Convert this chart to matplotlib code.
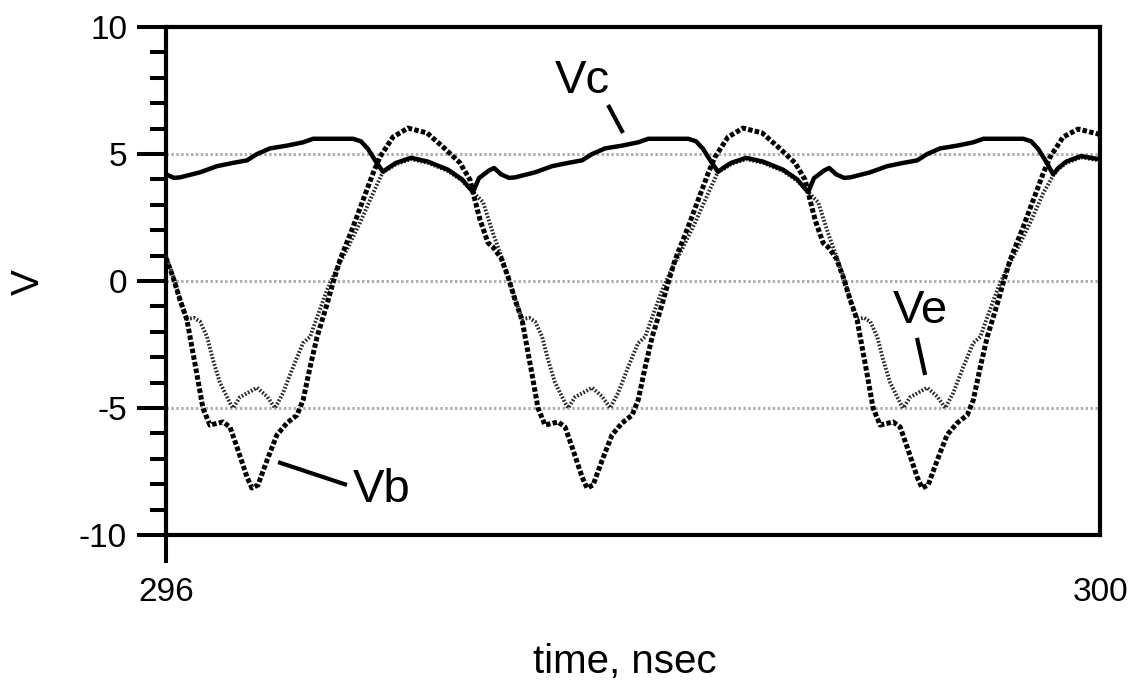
import matplotlib
matplotlib.use("Agg")
import matplotlib.pyplot as plt
from matplotlib.ticker import MultipleLocator

plt.rcParams['font.family'] = ['Liberation Sans', 'DejaVu Sans']
plt.rcParams['axes.unicode_minus'] = False

# collector voltage (solid)
t_vc = [296.000, 296.034, 296.060, 296.146, 296.218, 296.287, 296.347, 296.390, 296.445,
        296.518, 296.587, 296.630, 296.801, 296.835, 296.865, 296.899, 296.929, 296.951,
        296.985, 297.049, 297.122, 297.208, 297.268, 297.315, 297.340, 297.383, 297.405,
        297.435, 297.469, 297.495, 297.581, 297.653, 297.722, 297.782, 297.825, 297.880,
        297.953, 298.022, 298.065, 298.236, 298.270, 298.300, 298.334, 298.364, 298.386,
        298.420, 298.484, 298.557, 298.643, 298.703, 298.750, 298.775, 298.818, 298.840,
        298.870, 298.904, 298.930, 299.016, 299.088, 299.157, 299.217, 299.260, 299.315,
        299.388, 299.457, 299.500, 299.671, 299.705, 299.735, 299.769, 299.799, 299.821,
        299.855, 299.919, 299.992, 300.020]
vc = [4.20, 4.06, 4.08, 4.28, 4.52, 4.65, 4.75, 5.00, 5.22,
      5.33, 5.46, 5.60, 5.60, 5.50, 5.20, 4.70, 4.30, 4.45,
      4.65, 4.85, 4.70, 4.38, 4.00, 3.50, 4.05, 4.35, 4.45,
      4.20, 4.06, 4.08, 4.28, 4.52, 4.65, 4.75, 5.00, 5.22,
      5.33, 5.46, 5.60, 5.60, 5.50, 5.20, 4.70, 4.30, 4.45,
      4.65, 4.85, 4.70, 4.38, 4.00, 3.50, 4.05, 4.35, 4.45,
      4.20, 4.06, 4.08, 4.28, 4.52, 4.65, 4.75, 5.00, 5.22,
      5.33, 5.46, 5.60, 5.60, 5.50, 5.20, 4.70, 4.20, 4.45,
      4.70, 4.92, 4.80, 4.78]

# base voltage (heavy dots)
t_vb = [296.000, 296.030, 296.060, 296.090, 296.103, 296.133, 296.158, 296.188, 296.244,
        296.274, 296.304, 296.347, 296.368, 296.394, 296.433, 296.475, 296.518, 296.561,
        296.587, 296.617, 296.647, 296.690, 296.715, 296.745, 296.801, 296.844, 296.887,
        296.916, 296.972, 297.036, 297.118, 297.186, 297.259, 297.302, 297.323, 297.345,
        297.379, 297.400,
        297.435, 297.465, 297.495, 297.525, 297.538, 297.568, 297.593, 297.623, 297.679,
        297.709, 297.739, 297.782, 297.803, 297.829, 297.868, 297.910, 297.953, 297.996,
        298.022, 298.052, 298.082, 298.125, 298.150, 298.180, 298.236, 298.279, 298.322,
        298.351, 298.407, 298.471, 298.553, 298.621, 298.694, 298.737, 298.758, 298.780,
        298.814, 298.835,
        298.870, 298.900, 298.930, 298.960, 298.973, 299.003, 299.028, 299.058, 299.114,
        299.144, 299.174, 299.217, 299.238, 299.264, 299.303, 299.345, 299.388, 299.431,
        299.457, 299.487, 299.517, 299.560, 299.585, 299.615, 299.671, 299.714, 299.757,
        299.786, 299.842, 299.906, 299.988, 300.020]
vb = [0.90, 0.16, -0.75, -1.54, -2.20, -3.70, -5.00, -5.67, -5.55,
      -5.75, -6.54, -7.72, -8.15, -8.03, -7.05, -6.06, -5.59, -5.28,
      -4.69, -3.39, -2.20, -0.90, -0.08, 0.83, 2.13, 3.19, 4.25,
      4.88, 5.67, 6.02, 5.83, 5.28, 4.65, 3.98, 3.19, 2.40,
      1.50, 1.34,
      0.90, 0.16, -0.75, -1.54, -2.20, -3.70, -5.00, -5.67, -5.55,
      -5.75, -6.54, -7.72, -8.15, -8.03, -7.05, -6.06, -5.59, -5.28,
      -4.69, -3.39, -2.20, -0.90, -0.08, 0.83, 2.13, 3.19, 4.25,
      4.88, 5.67, 6.02, 5.83, 5.28, 4.65, 3.98, 3.19, 2.40,
      1.50, 1.34,
      0.90, 0.16, -0.75, -1.54, -2.20, -3.70, -5.00, -5.67, -5.55,
      -5.75, -6.54, -7.72, -8.15, -8.03, -7.05, -6.06, -5.59, -5.28,
      -4.69, -3.39, -2.20, -0.90, -0.08, 0.83, 2.13, 3.19, 4.25,
      4.88, 5.67, 5.98, 5.80, 5.65]

# emitter voltage (fine dots)
t_ve = [296.000, 296.030, 296.060, 296.090, 296.120, 296.146, 296.176, 296.201, 296.231,
        296.274, 296.287, 296.317, 296.390, 296.433, 296.467, 296.501, 296.544, 296.587,
        296.617, 296.647, 296.690, 296.732, 296.775, 296.831, 296.887, 296.929, 296.951,
        296.985, 297.049, 297.122, 297.208, 297.268, 297.315, 297.358, 297.400,
        297.435, 297.465, 297.495, 297.525, 297.555, 297.581, 297.611, 297.636, 297.666,
        297.709, 297.722, 297.752, 297.825, 297.868, 297.902, 297.936, 297.979, 298.022,
        298.052, 298.082, 298.125, 298.167, 298.210, 298.266, 298.322, 298.364, 298.386,
        298.420, 298.484, 298.557, 298.643, 298.703, 298.750, 298.793, 298.835,
        298.870, 298.900, 298.930, 298.960, 298.990, 299.016, 299.046, 299.071, 299.101,
        299.144, 299.157, 299.187, 299.260, 299.303, 299.337, 299.371, 299.414, 299.457,
        299.487, 299.517, 299.560, 299.602, 299.645, 299.701, 299.757, 299.799, 299.821,
        299.855, 299.919, 299.992, 300.020]
ve = [1.00, 0.20, -0.70, -1.50, -1.45, -1.60, -2.20, -3.10, -4.00,
      -4.80, -5.00, -4.57, -4.20, -4.55, -5.00, -4.41, -3.39, -2.44,
      -2.20, -1.42, -0.35, 0.50, 1.25, 2.30, 3.46, 4.30, 4.40,
      4.60, 4.80, 4.65, 4.33, 3.95, 3.50, 3.10, 1.89,
      1.00, 0.20, -0.70, -1.50, -1.45, -1.60, -2.20, -3.10, -4.00,
      -4.80, -5.00, -4.57, -4.20, -4.55, -5.00, -4.41, -3.39, -2.44,
      -2.20, -1.42, -0.35, 0.50, 1.25, 2.30, 3.46, 4.30, 4.40,
      4.60, 4.80, 4.65, 4.33, 3.95, 3.50, 3.10, 1.89,
      1.00, 0.20, -0.70, -1.50, -1.45, -1.60, -2.20, -3.10, -4.00,
      -4.80, -5.00, -4.57, -4.20, -4.55, -5.00, -4.41, -3.39, -2.44,
      -2.20, -1.42, -0.35, 0.50, 1.25, 2.30, 3.46, 4.15, 4.40,
      4.65, 4.87, 4.75, 4.73]

yticks = [-10, -5, 0, 5, 10]
xticks = [296, 300]

fig = plt.figure(figsize=(11.3, 6.89), dpi=100)
ax = fig.add_axes([0.1469, 0.2235, 0.8266, 0.7373])

ax.plot(t_ve, ve, color='#2a2a2a', lw=2.8, ls=(0, (0.45, 0.45)), zorder=3)
ax.plot(t_vb, vb, color='black', lw=3.6, ls=(0, (0.9, 0.45)), zorder=4)
ax.plot(t_vc, vc, color='black', lw=3.2, solid_capstyle='round', zorder=5)

ax.set_xlim(296, 300)
ax.set_ylim(-10, 10)
ax.set_yticks(yticks)
ax.set_yticklabels([str(v) for v in yticks])
ax.yaxis.set_minor_locator(MultipleLocator(1))
ax.set_xticks(xticks)
ax.set_xticklabels([str(v) for v in xticks])

ax.grid(axis='y', which='major', color='#b0b0b0', lw=2.2, ls=(0, (0.8, 0.8)), zorder=1)

for s in ax.spines.values():
    s.set_linewidth(3.0)
    s.set_color('black')

ax.tick_params(axis='y', which='major', direction='out', length=21, width=2.9,
               labelsize=24, pad=7, right=False)
ax.tick_params(axis='y', which='minor', direction='out', length=11.5, width=2.9, right=False)
ax.tick_params(axis='x', which='major', direction='out', length=20, width=2.9,
               labelsize=24, pad=10, top=False)
ax.xaxis.get_major_ticks()[1].tick1line.set_visible(False)

fig.text(47 / 1130, 1 - 282 / 689, 'V', rotation=90, ha='right', va='center', fontsize=28)
fig.text(625 / 1130, 1 - 673 / 689, 'time, nsec', ha='center', va='baseline', fontsize=29)

# trace labels with leader lines
ax.text(297.666, 7.40, 'Vc', fontsize=34, ha='left', va='baseline')
ax.plot([297.893, 297.957], [6.93, 5.83], color='black', lw=3, solid_capstyle='butt')
ax.text(296.801, -8.70, 'Vb', fontsize=34, ha='left', va='baseline')
ax.plot([296.480, 296.775], [-7.13, -8.03], color='black', lw=3, solid_capstyle='butt')
ax.text(299.113, -1.65, 'Ve', fontsize=34, ha='left', va='baseline')
ax.plot([299.216, 299.251], [-2.24, -3.70], color='black', lw=3, solid_capstyle='butt')

fig.savefig('out.png', dpi=100)
